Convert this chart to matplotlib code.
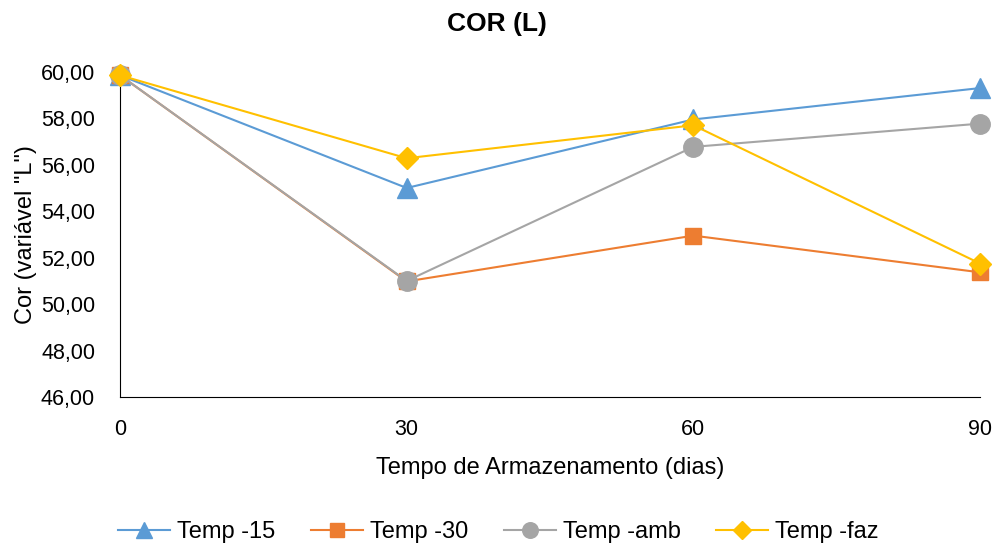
import matplotlib
matplotlib.use("Agg")
import matplotlib.pyplot as plt
from matplotlib.ticker import FuncFormatter

plt.rcParams['font.family'] = ['Liberation Sans', 'DejaVu Sans']

days = [0, 30, 60, 90]
temp_15 = [59.85, 55.0, 57.95, 59.3]
temp_30 = [59.85, 50.98, 52.95, 51.37]
temp_amb = [59.85, 51.0, 56.77, 57.77]
temp_faz = [59.85, 56.28, 57.7, 51.75]
series_labels = ["Temp -15", "Temp -30", "Temp -amb", "Temp -faz"]

fig = plt.figure(figsize=(9.97, 5.44), dpi=100)
ax = fig.add_axes([0.1204, 0.27, 0.8626, 0.598])

ax.plot(days, temp_15, color='#5B9BD5', marker='^', markersize=14, lw=1.5, label=series_labels[0], clip_on=False, zorder=3)
ax.plot(days, temp_30, color='#ED7D31', marker='s', markersize=12, lw=1.5, label=series_labels[1], clip_on=False, zorder=3)
ax.plot(days, temp_amb, color='#A5A5A5', marker='o', markersize=14, lw=1.5, label=series_labels[2], clip_on=False, zorder=3)
ax.plot(days, temp_faz, color='#FFC000', marker='D', markersize=11, lw=1.5, label=series_labels[3], clip_on=False, zorder=4)

ax.set_xlim(0, 90)
ax.set_ylim(46, 60)
ax.set_xticks(days)
ax.set_yticks([46, 48, 50, 52, 54, 56, 58, 60])
ax.yaxis.set_major_formatter(FuncFormatter(lambda v, p: f"{v:.2f}".replace('.', ',')))
ax.tick_params(axis='both', length=0, labelsize=15.5)
ax.tick_params(axis='y', pad=18)
ax.tick_params(axis='x', pad=16)
ax.spines['top'].set_visible(False)
ax.spines['right'].set_visible(False)
ax.spines['left'].set_color('black')
ax.spines['bottom'].set_color('black')
fig.text(0.4985, 0.955, "COR (L)", fontsize=19, fontweight='bold', ha='center', va='center')
ax.set_xlabel("Tempo de Armazenamento (dias)", fontsize=17, labelpad=12)
ax.set_ylabel('Cor (variável "L")', fontsize=17, labelpad=3)

fig.legend(loc='center', bbox_to_anchor=(0.5, 0.022), ncol=4, frameon=False,
           fontsize=17, handlelength=2.2, handletextpad=0.3, columnspacing=1.5,
           borderpad=0, borderaxespad=0, markerscale=0.8)

fig.savefig("out.png", dpi=100)
